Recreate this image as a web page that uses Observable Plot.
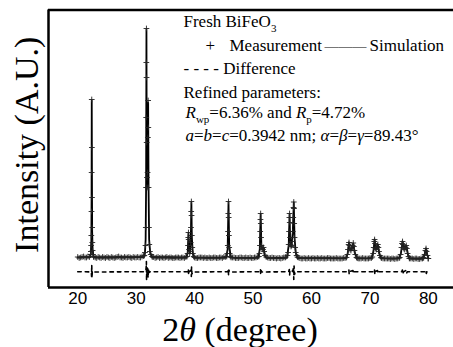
<!DOCTYPE html>
<html><head><meta charset="utf-8">
<script src="https://cdn.jsdelivr.net/npm/d3@7"></script>
<script src="https://cdn.jsdelivr.net/npm/@observablehq/plot@0.6"></script>
<style>body{margin:0;background:#fff}</style>
</head><body><div id="chart"></div>
<script>
// ---- data (2θ in degrees, intensity in arbitrary counts) ----
const xTicks = [20, 30, 40, 50, 60, 70, 80];
const xDomain = [15, 84.3];
const yDomain = [0, 2775];

const baselineMeasured = [
  [20.0,305],[20.5,300],[21.0,310],[21.5,300],[22.0,305],[23.0,300],[23.5,305],[24.0,295],[24.5,300],
  [25.0,305],[25.5,295],[26.0,300],[26.5,300],[27.0,310],[27.5,300],[28.0,305],[28.5,300],[29.0,300],
  [29.5,305],[30.0,300],[30.5,300],[31.0,310],[33.0,305],[33.5,300],[34.0,295],[34.5,300],[35.0,300],
  [35.5,295],[36.0,300],[36.5,295],[37.0,300],[37.5,295],[38.0,300],[38.5,305],[40.0,300],[40.5,295],
  [41.0,300],[41.5,295],[42.0,295],[42.5,300],[43.0,295],[43.5,300],[44.0,295],[44.5,300],[45.0,305],
  [46.5,300],[47.0,295],[47.5,295],[48.0,300],[48.5,295],[49.0,295],[49.5,300],[50.0,295],[50.5,300],
  [52.5,300],[53.0,295],[53.5,295],[54.0,290],[54.5,295],[55.0,295],[55.5,300],[58.0,295],[58.5,290],
  [59.0,290],[59.5,295],[60.0,290],[60.5,290],[61.0,295],[61.5,290],[62.0,290],[62.5,290],[63.0,295],
  [63.5,290],[64.0,290],[64.5,290],[65.0,290],[65.5,295],[68.0,290],[68.5,290],[69.0,290],[69.5,290],
  [70.0,295],[72.0,295],[72.5,290],[73.0,290],[73.5,285],[74.0,290],[74.5,290],[75.0,295],[76.8,295],
  [77.0,290],[77.5,285],[78.0,290],[78.5,285],[79.0,290],[80.0,290]
];

const baselineMeasuredQuarter = [
  [20.25,295],[20.75,305],[21.25,300],[21.75,310],[22.75,305],[23.25,295],[23.75,300],[24.25,305],
  [24.75,295],[25.25,300],[25.75,305],[26.25,295],[26.75,305],[27.25,300],[27.75,295],[28.25,300],
  [28.75,305],[29.25,295],[29.75,300],[30.25,305],[30.75,300],[31.25,315],[32.85,305],[33.25,295],
  [33.75,305],[34.25,300],[34.75,295],[35.25,305],[35.75,300],[36.25,295],[36.75,300],[37.25,300],
  [37.75,300],[38.25,295],[40.25,295],[40.75,300],[41.25,300],[41.75,300],[42.25,295],[42.75,295],
  [43.25,300],[43.75,295],[44.25,300],[44.75,295],[45.25,305],[46.25,300],[46.75,300],[47.25,295],
  [47.75,300],[48.25,295],[48.75,300],[49.25,295],[49.75,295],[50.25,300],[50.75,305],[52.25,305],
  [52.75,295],[53.25,300],[53.75,295],[54.25,295],[54.75,290],[55.25,300],[55.6,305],[57.75,300],
  [58.25,290],[58.75,295],[59.25,290],[59.75,290],[60.25,295],[60.75,290],[61.25,290],[61.75,295],
  [62.25,290],[62.75,295],[63.25,290],[63.75,290],[64.25,295],[64.75,290],[65.25,290],[65.75,295],
  [67.85,295],[68.25,290],[68.75,295],[69.25,290],[69.75,290],[70.25,295],[72.25,290],[72.75,290],
  [73.25,290],[73.75,290],[74.25,285],[74.75,290],[76.75,290],[77.25,290],[77.75,290],[78.25,285],
  [78.75,290],[79.1,295],[79.95,290]
];

const peakMeasured = [
  [22.2,330],[22.25,360],[22.3,420],[22.33,520],[22.36,760],[22.38,1150],[22.4,1880],[22.42,1400],
  [22.44,900],[22.47,600],[22.5,450],[22.55,370],[22.6,330],[22.7,310],
  [31.4,320],[31.5,350],[31.6,420],[31.65,600],[31.7,1000],[31.72,1700],[31.74,2250],[31.76,2590],
  [31.78,2100],[31.8,1450],[31.85,1100],[31.9,1000],[31.95,1150],[32.0,1500],[32.05,1870],[32.08,1600],
  [32.12,1000],[32.18,600],[32.25,430],[32.35,360],[32.5,330],[32.7,310],
  [38.7,310],[38.8,340],[38.88,420],[38.92,500],[38.95,550],[38.98,480],[39.05,380],[39.15,340],
  [39.25,360],[39.33,450],[39.38,600],[39.42,760],[39.45,860],[39.48,720],[39.52,520],[39.6,400],
  [39.7,340],[39.85,310],
  [45.5,310],[45.6,340],[45.68,420],[45.73,560],[45.77,740],[45.8,860],[45.83,700],[45.87,520],
  [45.92,400],[46.0,340],[46.1,310],
  [51.0,310],[51.1,340],[51.18,420],[51.23,560],[51.27,680],[51.3,740],[51.33,640],[51.37,500],
  [51.45,420],[51.55,390],[51.7,380],[51.8,400],[51.9,360],[52.05,320],
  [55.9,320],[56.0,350],[56.1,430],[56.17,560],[56.22,700],[56.25,740],[56.28,650],[56.33,500],
  [56.4,430],[56.5,410],[56.6,420],[56.7,460],[56.8,560],[56.88,700],[56.93,800],[56.97,855],
  [57.0,790],[57.04,640],[57.1,500],[57.2,400],[57.3,350],[57.45,320],[57.6,305],
  [66.0,300],[66.15,330],[66.25,380],[66.35,430],[66.42,450],[66.5,420],[66.6,380],[66.75,370],
  [66.9,390],[67.05,420],[67.15,445],[67.25,410],[67.35,370],[67.5,330],[67.7,300],
  [70.4,305],[70.55,340],[70.65,400],[70.75,460],[70.8,480],[70.88,440],[70.98,390],[71.1,380],
  [71.25,410],[71.35,430],[71.45,400],[71.55,360],[71.7,320],[71.9,300],
  [75.1,300],[75.25,330],[75.4,400],[75.5,440],[75.58,460],[75.65,430],[75.8,390],[75.95,380],
  [76.1,400],[76.22,420],[76.32,390],[76.45,340],[76.6,310],
  [79.2,300],[79.35,330],[79.5,370],[79.6,390],[79.7,360],[79.85,320]
];

const simulation = [
  [20,302],[22.1,302],[22.25,340],[22.33,480],[22.37,900],[22.4,1870],[22.43,1200],[22.47,560],[22.55,380],[22.7,310],[23,302],
  [31.3,305],[31.5,340],[31.62,480],[31.7,1000],[31.76,2580],[31.8,1500],[31.88,1000],[31.95,1100],[32.05,1850],[32.12,1000],[32.22,480],[32.4,350],[32.7,305],
  [38.6,300],[38.82,350],[38.95,545],[39.05,380],[39.2,350],[39.35,480],[39.45,850],[39.53,500],[39.7,340],[39.9,300],
  [45.4,298],[45.65,380],[45.8,855],[45.92,420],[46.2,298],
  [50.9,296],[51.15,380],[51.3,735],[51.42,430],[51.6,380],[51.8,400],[52.0,320],[52.3,296],
  [55.8,296],[56.1,420],[56.25,735],[56.35,480],[56.55,410],[56.8,550],[56.97,850],[57.1,500],[57.3,350],[57.6,295],
  [65.9,292],[66.2,340],[66.42,450],[66.6,380],[66.9,390],[67.15,440],[67.4,350],[67.8,292],
  [70.3,292],[70.6,360],[70.8,480],[71.0,385],[71.35,430],[71.6,340],[71.9,292],
  [75.0,292],[75.3,340],[75.58,460],[75.9,385],[76.22,420],[76.5,330],[76.8,290],
  [79.1,290],[79.4,340],[79.6,390],[79.8,330],[80,295]
];

const difference = [
  [20.0,158],[22.2,156],[22.33,150],[22.37,110],[22.4,225],[22.44,95],[22.5,165],[22.6,155],
  [31.5,158],[31.65,170],[31.72,210],[31.75,260],[31.78,70],[31.82,200],[31.9,120],[31.97,190],[32.04,95],[32.1,185],[32.2,150],[32.4,158],
  [38.85,158],[38.93,185],[38.97,130],[39.1,158],[39.4,175],[39.44,110],[39.48,205],[39.55,135],[39.7,155],
  [45.7,158],[45.77,185],[45.81,120],[45.86,175],[46.0,155],
  [51.2,158],[51.27,180],[51.31,130],[51.36,170],[51.5,155],
  [56.1,158],[56.2,180],[56.26,125],[56.32,175],[56.8,160],[56.92,205],[56.97,80],[57.02,215],[57.1,130],[57.25,158],
  [66.3,158],[66.4,175],[66.45,135],[66.55,160],[67.1,170],[67.18,140],[67.3,158],
  [70.7,158],[70.78,180],[70.84,130],[70.95,160],[71.3,170],[71.38,140],[71.5,158],
  [75.45,158],[75.55,175],[75.62,135],[75.75,158],[76.15,170],[76.25,140],[76.4,158],
  [79.5,158],[79.58,172],[79.65,140],[79.75,158],[80,158]
];

// ---- texts (simple markup: *italic*, _{subscript}) ----
const xTitle = "2*θ* (degree)";
const yTitle = "Intensity (A.U.)";
const sampleLabel = "Fresh BiFeO_{3}";
const measLabel = "Measurement";
const simLabel = "Simulation";
const diffLabel = "- - - - Difference";
const paramsHead = "Refined parameters:";
const paramsR = "*R*_{wp}=6.36% and *R*_{p}=4.72%";
const paramsCell = "*a*=*b*=*c*=0.3942 nm; *α*=*β*=*γ*=89.43°";

const measured = baselineMeasured.concat(baselineMeasuredQuarter, peakMeasured);
const serif = "'Liberation Serif', 'Times New Roman', serif";
const ink = "#000";

function note(t, dx, dy, size = 17) {
  return Plot.text([t], {text: d => d, frameAnchor: "top-left", dx, dy, textAnchor: "start",
    lineAnchor: "bottom", fontFamily: serif, fontSize: size, fill: ink});
}

const chart = Plot.plot({
  width: 453, height: 347,
  marginLeft: 48, marginRight: 0, marginTop: 9.5, marginBottom: 60,
  style: {fontFamily: "'Liberation Sans', Arial, sans-serif", fontSize: "17px", color: "#000", background: "#fff"},
  x: {domain: xDomain, ticks: xTicks, tickSize: 0, tickPadding: 4, label: null},
  y: {domain: yDomain, axis: null},
  marks: [
    Plot.line(simulation, {x: d => d[0], y: d => d[1], stroke: ink, strokeWidth: 1.8}),
    Plot.dot(measured, {x: d => d[0], y: d => d[1], symbol: "plus", r: 2, stroke: "#222", strokeWidth: 0.9}),
    Plot.line(difference, {x: d => d[0], y: d => d[1], stroke: ink, strokeWidth: 1.6, strokeDasharray: "3.5,4"}),
    Plot.ruleY([yDomain[0], yDomain[1]], {stroke: ink, strokeWidth: 2.5}),
    Plot.ruleX([xDomain[0]], {stroke: ink, strokeWidth: 2.5}),
    Plot.text([yTitle], {text: d => d, frameAnchor: "left", rotate: -90, dx: -21.5, dy: -4,
      textAnchor: "middle", lineAnchor: "middle", fontFamily: serif, fontSize: 34, fill: ink}),
    Plot.text([xTitle], {text: d => d, frameAnchor: "bottom", dx: -11, dy: 53, lineAnchor: "bottom",
      textAnchor: "middle", fontFamily: serif, fontSize: 34, fill: ink}),
    note(sampleLabel, 135, 16.5),
    note("+", 157, 40.5),
    note(measLabel, 181, 40.5),
    note("———", 276, 40.5, 14),
    note(simLabel, 321, 40.5),
    note(diffLabel, 135, 64),
    note(paramsHead, 135, 87.5),
    note(paramsR, 137, 107.5),
    note(paramsCell, 137, 130.5)
  ]
});

// convert markup into tspans
d3.select(chart).selectAll("text").each(function() {
  const s = this.textContent;
  if (!/\*|_\{/.test(s)) return;
  const size = parseFloat(this.getAttribute("font-size")) || 17;
  this.textContent = "";
  const parts = s.split(/(\*[^*]+\*|_\{[^}]+\})/g).filter(p => p.length);
  let shifted = 0;
  for (const p of parts) {
    const ts = document.createElementNS("http://www.w3.org/2000/svg", "tspan");
    let dy = 0;
    if (p.startsWith("*")) {
      ts.textContent = p.slice(1, -1);
      ts.setAttribute("font-style", "italic");
    } else if (p.startsWith("_{")) {
      ts.textContent = p.slice(2, -1);
      ts.setAttribute("font-size", Math.round(size * 0.62));
      dy = size * 0.33;
    } else {
      ts.textContent = p;
    }
    const delta = dy - shifted;
    if (delta) ts.setAttribute("dy", delta);
    shifted = dy;
    this.appendChild(ts);
  }
});

document.getElementById("chart").appendChild(chart);
</script>
</body></html>
